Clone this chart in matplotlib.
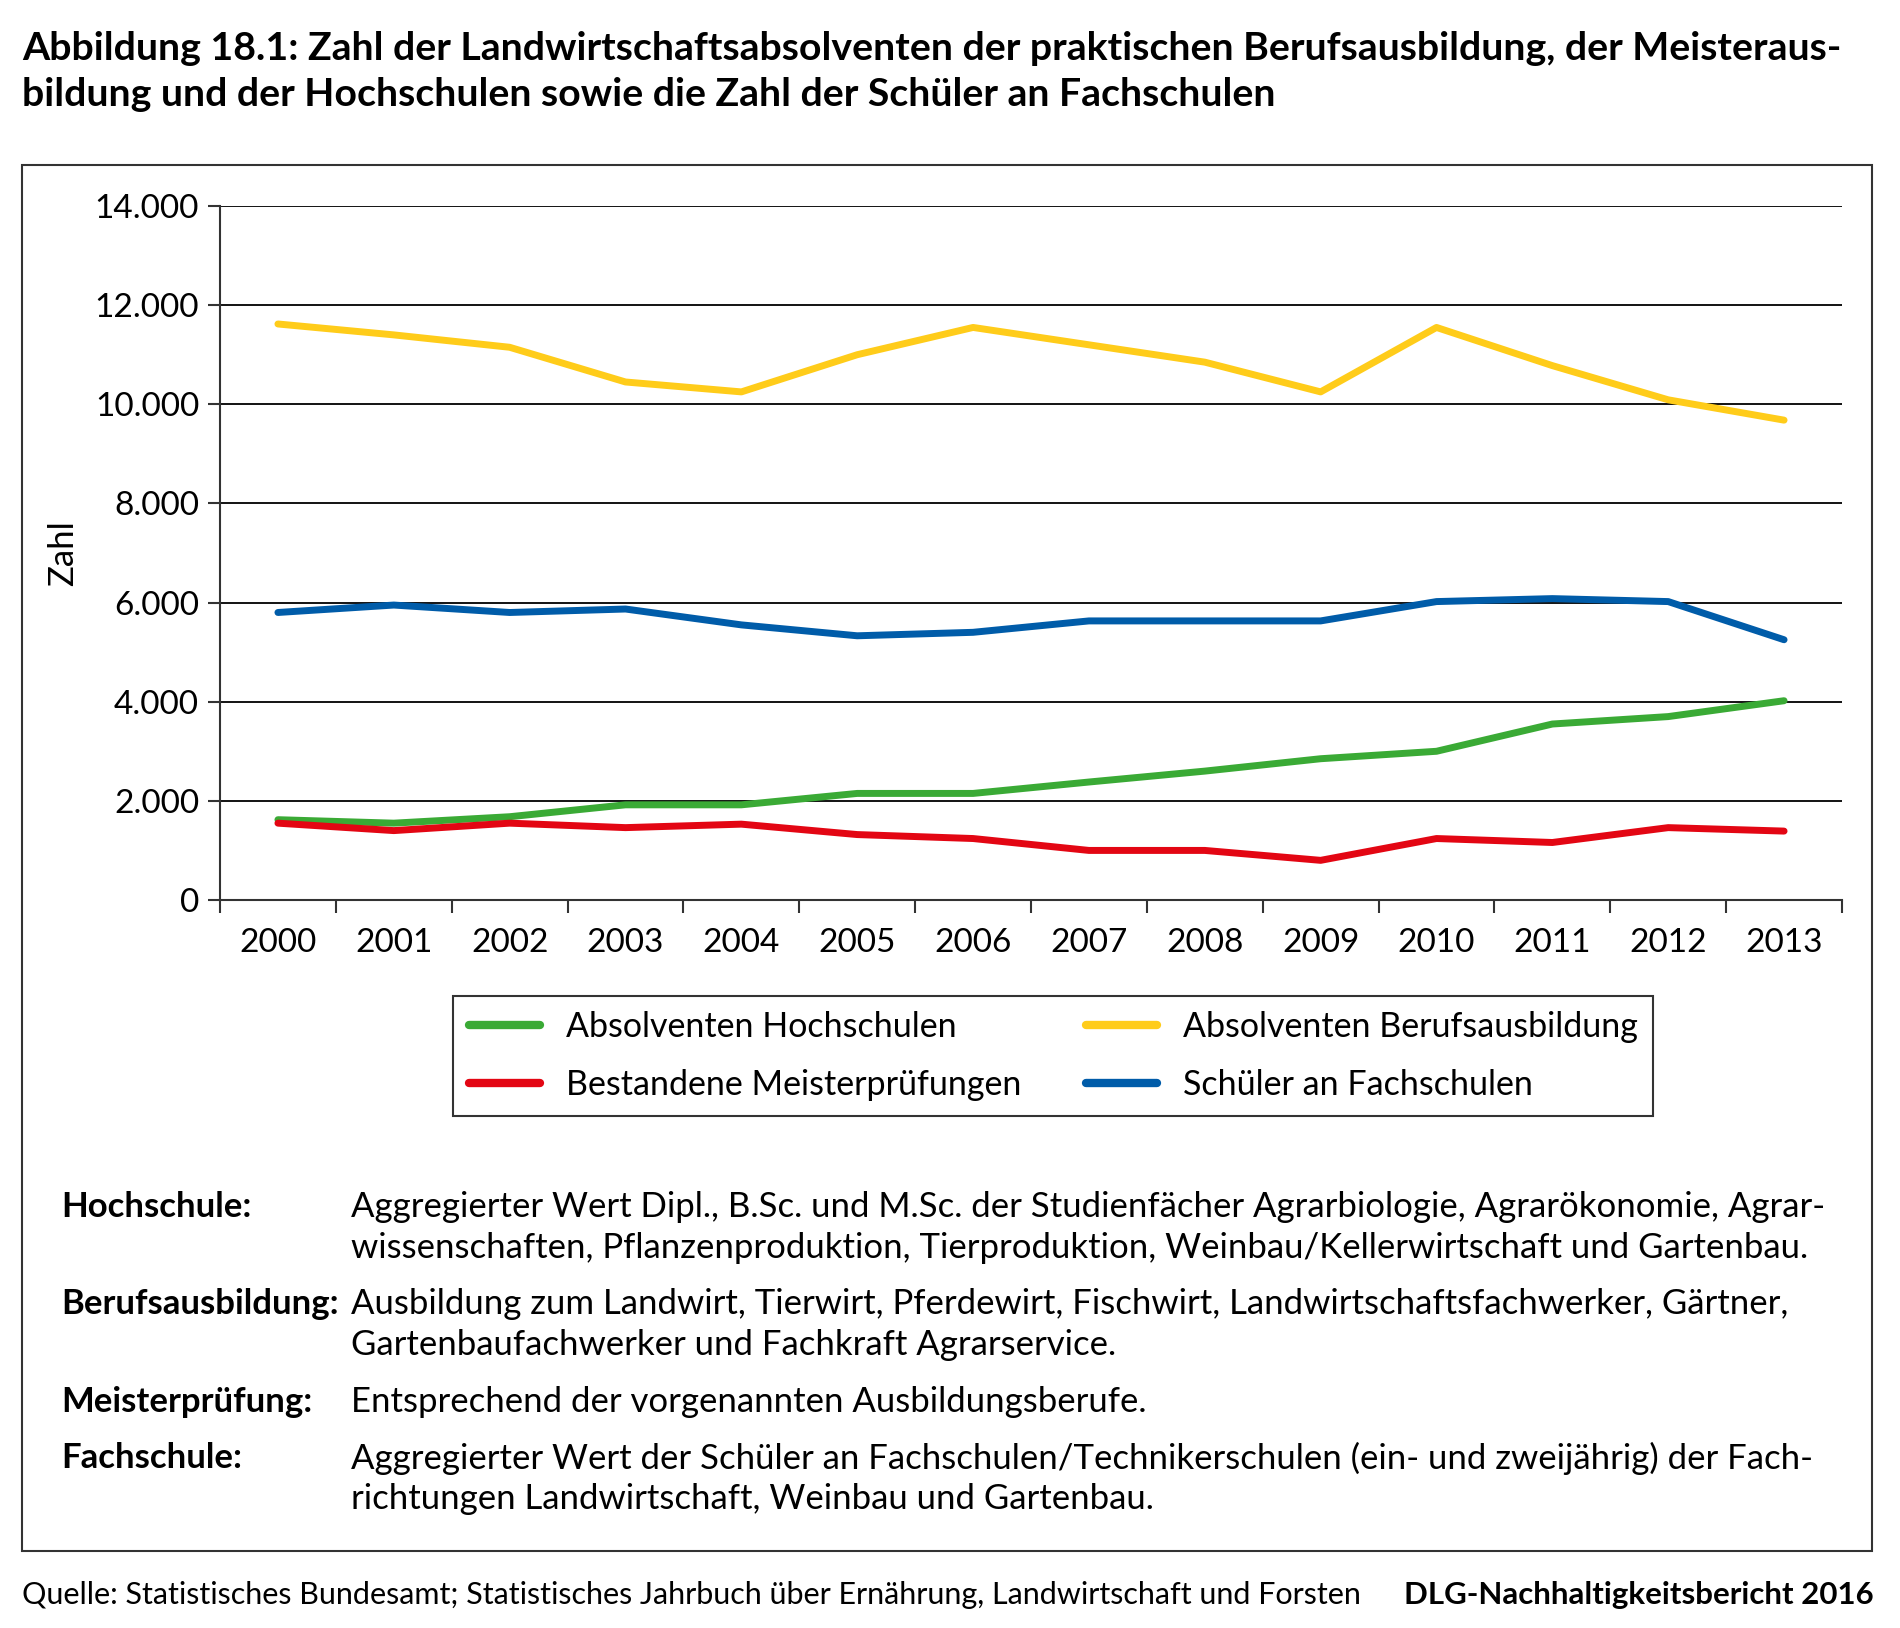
import matplotlib
matplotlib.use('Agg')
import matplotlib.pyplot as plt
import numpy as np
from matplotlib.patches import Rectangle
from matplotlib.ticker import FuncFormatter, FixedLocator

plt.rcParams['font.family'] = ['Lato', 'DejaVu Sans']

years = ['2000', '2001', '2002', '2003', '2004', '2005', '2006',
         '2007', '2008', '2009', '2010', '2011', '2012', '2013']
hochschulen = [1620, 1550, 1680, 1920, 1920, 2150, 2150, 2380, 2600, 2850, 3000, 3550, 3700, 4020]
berufsausbildung = [11620, 11400, 11150, 10450, 10250, 11000, 11550, 11200, 10850, 10250, 11550, 10780, 10090, 9680]
meister = [1550, 1400, 1550, 1460, 1530, 1320, 1240, 1000, 1000, 800, 1240, 1160, 1460, 1390]
fachschulen = [5800, 5950, 5800, 5870, 5550, 5330, 5400, 5630, 5630, 5630, 6020, 6080, 6020, 5250]

names = ['Absolventen Hochschulen', 'Bestandene Meisterprüfungen',
         'Absolventen Berufsausbildung', 'Schüler an Fachschulen']
colors = ['#3aaa35', '#e30613', '#ffcc1a', '#005ca9']

title = ['Abbildung 18.1: Zahl der Landwirtschaftsabsolventen der praktischen Berufsausbildung, der Meisteraus-',
         'bildung und der Hochschulen sowie die Zahl der Schüler an Fachschulen']

notes = [
    ('Hochschule:', ['Aggregierter Wert Dipl., B.Sc. und M.Sc. der Studienfächer Agrarbiologie, Agrarökonomie, Agrar-',
                     'wissenschaften, Pflanzenproduktion, Tierproduktion, Weinbau/Kellerwirtschaft und Gartenbau.']),
    ('Berufsausbildung:', ['Ausbildung zum Landwirt, Tierwirt, Pferdewirt, Fischwirt, Landwirtschaftsfachwerker, Gärtner,',
                           'Gartenbaufachwerker und Fachkraft Agrarservice.']),
    ('Meisterprüfung:', ['Entsprechend der vorgenannten Ausbildungsberufe.']),
    ('Fachschule:', ['Aggregierter Wert der Schüler an Fachschulen/Technikerschulen (ein- und zweijährig) der Fach-',
                     'richtungen Landwirtschaft, Weinbau und Gartenbau.']),
]
note_y = [1207, 1304, 1402, 1458]

W, H = 1900, 1628
fig = plt.figure(figsize=(W / 100, H / 100), dpi=100)

def fy(px):
    return 1 - px / H

ax = fig.add_axes([220 / W, fy(900), (1842 - 220) / W, (900 - 206) / H])

x = np.arange(len(years))
series = [hochschulen, meister, berufsausbildung, fachschulen]
lines = []
for vals, name, col in zip(series, names, colors):
    ln, = ax.plot(x, vals, color=col, lw=5, solid_capstyle='round', label=name, zorder=3)
    lines.append(ln)

ax.set_xlim(-0.5, len(years) - 0.5)
ax.set_ylim(0, 14000)
ax.set_yticks(np.arange(0, 14001, 2000))
ax.yaxis.set_major_formatter(FuncFormatter(lambda v, p: f'{int(v):,}'.replace(',', '.')))
ax.grid(axis='y', color='black', lw=1.3, zorder=1)
ax.xaxis.set_major_locator(FixedLocator(np.arange(-0.5, len(years), 1.0)))
ax.xaxis.set_minor_locator(FixedLocator(x))
ax.set_xticklabels([])
ax.set_xticks(x, years, minor=True)
ax.tick_params(axis='x', which='major', length=9, width=1.5, color='#333333')
ax.tick_params(axis='x', which='minor', length=0, pad=20, labelsize=24)
ax.tick_params(axis='y', length=9, width=1.5, color='#333333', labelsize=24, pad=6)
for s in ['top', 'right']:
    ax.spines[s].set_visible(False)
for s in ['left', 'bottom']:
    ax.spines[s].set_color('#333333')
    ax.spines[s].set_linewidth(1.5)
ax.set_ylabel('Zahl', fontsize=25, labelpad=11)

lgd = fig.legend(lines, names, ncol=2, loc='center',
                 bbox_to_anchor=(1053 / W, fy(1056)), fontsize=24.5,
                 frameon=True, fancybox=False, edgecolor='black',
                 handlelength=2.1, columnspacing=1.9, handletextpad=0.75,
                 labelspacing=0.75, borderpad=0.45)
lgd.get_frame().set_linewidth(1.5)
for h in lgd.legend_handles:
    h.set_linewidth(6)

for i, t in enumerate(title):
    fig.text(22 / W, fy(48 + 46 * i), t, fontsize=28.3, fontweight='bold', va='center')

for (lab, txt), yy in zip(notes, note_y):
    fig.text(61 / W, fy(yy), lab, fontsize=25, fontweight='bold', va='center')
    for j, t in enumerate(txt):
        fig.text(351 / W, fy(yy + 41 * j), t, fontsize=25, va='center')

fig.text(22 / W, fy(1595), 'Quelle: Statistisches Bundesamt; Statistisches Jahrbuch über Ernährung, '
         'Landwirtschaft und Forsten', fontsize=22, va='center')
fig.text(1874 / W, fy(1595), 'DLG-Nachhaltigkeitsbericht 2016', fontsize=22.5, fontweight='bold',
         va='center', ha='right')

fig.patches.append(Rectangle((22 / W, fy(1551)), (1872 - 22) / W, (1551 - 165) / H,
                             transform=fig.transFigure, fill=False, edgecolor='#333333', lw=1.5))

fig.savefig('out.png', dpi=100)
